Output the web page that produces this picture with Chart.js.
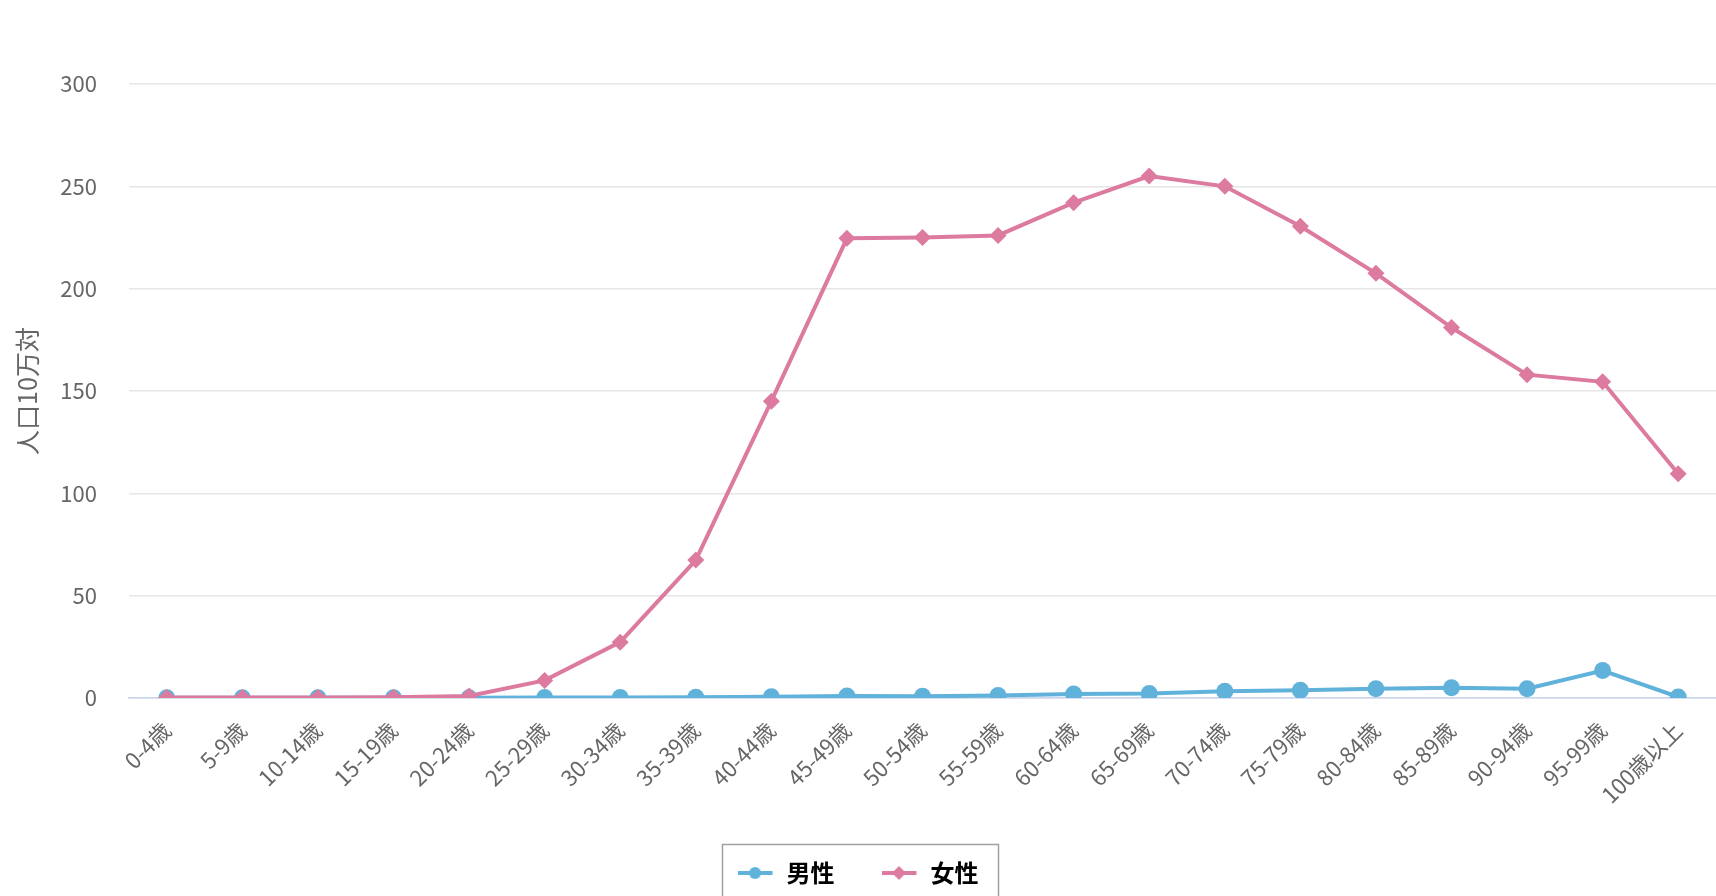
<!DOCTYPE html>
<html lang="ja">
<head>
<meta charset="utf-8">
<title>年齢階級別 罹患率</title>
<script src="https://cdn.jsdelivr.net/npm/chart.js@4/dist/chart.umd.min.js"></script>
<style>
    html, body { margin:0; padding:0; background:#fff; overflow:hidden; }
    #wrap { width:1716px; height:896px; }
</style>
</head>
<body>
<div id="wrap"><canvas id="chart" width="1716" height="896"></canvas></div>
<script>
// ── Data ──────────────────────────────────────────────────────────────
const ageGroups = [
    '0-4歳','5-9歳','10-14歳','15-19歳','20-24歳','25-29歳','30-34歳','35-39歳',
    '40-44歳','45-49歳','50-54歳','55-59歳','60-64歳','65-69歳','70-74歳',
    '75-79歳','80-84歳','85-89歳','90-94歳','95-99歳','100歳以上'
];
const maleRates   = [0.1, 0.1, 0.1, 0.1, 0.1, 0.2, 0.3, 0.4, 0.6, 1.0, 0.8, 1.2, 2.0, 2.2, 3.3, 3.8, 4.5, 5.0, 4.5, 13.4, 0.5];
const femaleRates = [0.3, 0.3, 0.3, 0.4, 1.0, 8.6, 27.3, 67.4, 145.0, 224.6, 225.0, 226.0, 242.0, 255.0, 250.0, 230.5, 207.5, 181.0, 158.0, 154.5, 109.6];
const yTicks      = [0, 50, 100, 150, 200, 250, 300];
const yTitle      = '人口10万対';
const seriesNames = ['男性', '女性'];

const BLUE = '#60b2da';
const PINK = '#dc7aa0';
const FONT = "'Noto Sans CJK JP', 'Noto Sans', sans-serif";

// ── Legend symbols (line + marker) ────────────────────────────────────
function legendSymbol(color, shape) {
    const c = document.createElement('canvas');
    c.width = 37; c.height = 18;
    const g = c.getContext('2d');
    g.strokeStyle = color; g.lineWidth = 4;
    g.beginPath(); g.moveTo(0, 9); g.lineTo(35, 9); g.stroke();
    g.fillStyle = color;
    g.beginPath();
    if (shape === 'circle') {
        g.arc(17.5, 9, 6, 0, Math.PI * 2);
    } else {
        g.moveTo(17.5, 2); g.lineTo(24.5, 9); g.lineTo(17.5, 16); g.lineTo(10.5, 9); g.closePath();
    }
    g.fill();
    return c;
}
const symbols = [legendSymbol(BLUE, 'circle'), legendSymbol(PINK, 'diamond')];

// frame round the legend items
const legendFrame = {
    id: 'legendFrame',
    afterDraw(chart) {
        const boxes = chart.legend && chart.legend.legendHitBoxes;
        if (!boxes || !boxes.length) return;
        const first = boxes[0], last = boxes[boxes.length - 1];
        const x1 = first.left - 16, x2 = last.left + last.width + 19;
        const y1 = first.top - 17;
        const ctx = chart.ctx;
        ctx.save();
        ctx.strokeStyle = '#a0a0a0';
        ctx.lineWidth = 1.5;
        ctx.strokeRect(Math.round(x1) + .5, Math.round(y1) + .5, Math.round(x2 - x1), 80);
        ctx.restore();
    }
};

// ── Chart ─────────────────────────────────────────────────────────────
new Chart(document.getElementById('chart').getContext('2d'), {
    type: 'line',
    data: {
        labels: ageGroups,
        datasets: [
            {
                label: seriesNames[0],
                data: maleRates,
                borderColor: BLUE, backgroundColor: BLUE,
                borderWidth: 4, tension: 0,
                pointStyle: 'circle', pointRadius: 8.5, pointBorderWidth: 0,
                pointBackgroundColor: BLUE,
                order: 1,
            },
            {
                label: seriesNames[1],
                data: femaleRates,
                borderColor: PINK, backgroundColor: PINK,
                borderWidth: 4, tension: 0,
                pointStyle: 'rectRot', pointRadius: 8.5, pointBorderWidth: 0,
                pointBackgroundColor: PINK,
                order: 0,
            }
        ]
    },
    options: {
        responsive: false,
        animation: false,
        layout: { autoPadding: false, padding: { top: 84, right: 0, bottom: 1, left: 0 } },
        plugins: {
            tooltip: { enabled: false },
            legend: {
                position: 'bottom',
                labels: {
                    usePointStyle: true,
                    pointStyleWidth: 37,
                    padding: 47,
                    color: '#333',
                    font: { family: FONT, size: 24, weight: 'bold' },
                    generateLabels: () => seriesNames.map((n, i) => ({
                        text: n, pointStyle: symbols[i], fillStyle: 'transparent',
                        strokeStyle: 'transparent', lineWidth: 0, datasetIndex: i, hidden: false,
                    })),
                }
            }
        },
        scales: {
            x: {
                offset: true,
                grid: { display: false, drawTicks: false },
                border: { display: true, color: '#ccd6eb', width: 1.5 },
                ticks: {
                    color: '#666', padding: 19, autoSkip: false,
                    minRotation: 45, maxRotation: 45,
                    font: { family: FONT, size: 22 },
                },
                afterFit: s => { s.height = 116; s.paddingLeft = 0; s.paddingRight = 0; },
            },
            y: {
                min: 0, max: 300,
                afterBuildTicks: s => { s.ticks = yTicks.map(v => ({ value: v })); },
                grid: {
                    drawTicks: false,
                    color: c => c.tick && c.tick.value === 0 ? '#ccd6eb' : '#e6e6e6',
                    lineWidth: 1.5,
                },
                border: { display: false },
                ticks: { color: '#666', padding: 32, font: { family: FONT, size: 22 } },
                title: {
                    display: true, text: yTitle, color: '#666',
                    font: { family: FONT, size: 25 },
                    padding: { top: 12, bottom: 0 },
                },
                afterFit: s => { s.width = 129; },
            }
        }
    },
    plugins: [legendFrame]
});
</script>
</body>
</html>
